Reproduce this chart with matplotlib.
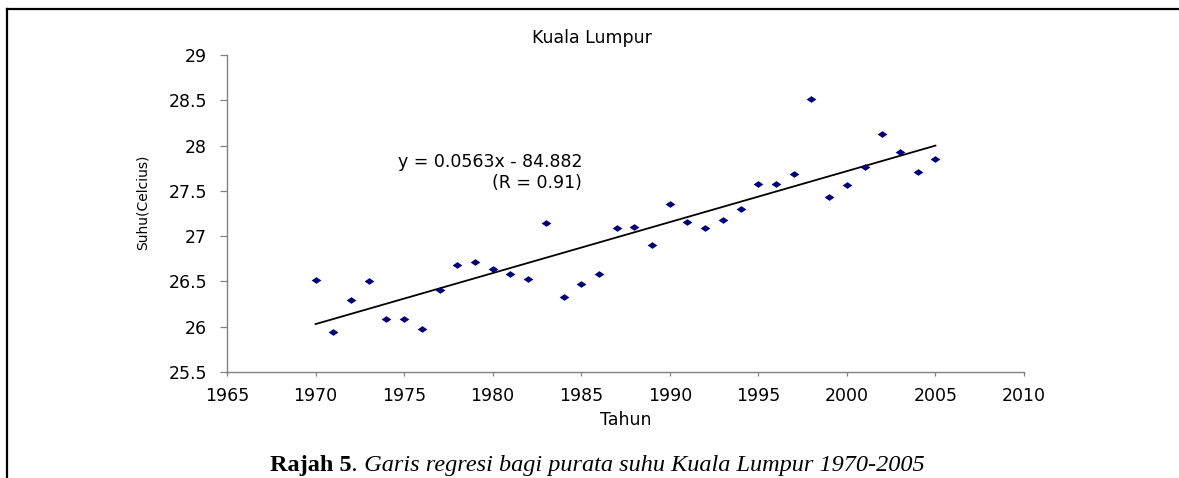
import matplotlib
matplotlib.use("Agg")
import matplotlib.pyplot as plt
from matplotlib.lines import Line2D
from matplotlib.path import Path
from matplotlib.ticker import FixedLocator, FormatStrFormatter

# ---------------- data ----------------
years = list(range(1970, 2006))
temps = [26.52, 25.94, 26.29, 26.51, 26.09, 26.09, 25.98, 26.40, 26.68, 26.71,
         26.64, 26.58, 26.53, 27.15, 26.33, 26.47, 26.58, 27.09, 27.10, 26.90,
         27.36, 27.16, 27.09, 27.18, 27.30, 27.58, 27.58, 27.69, 28.51, 27.43,
         27.57, 27.76, 28.13, 27.93, 27.71, 27.85]
slope = 0.0563
intercept = -84.882
r_value = 0.91
x_ticks = [1965, 1970, 1975, 1980, 1985, 1990, 1995, 2000, 2005, 2010]
y_ticks = [25.5, 26, 26.5, 27, 27.5, 28, 28.5, 29]
title = "Kuala Lumpur"
x_label = "Tahun"
y_label = "Suhu(Celcius)"
caption_bold = "Rajah 5"
caption_italic = ". Garis regresi bagi purata suhu Kuala Lumpur 1970-2005"

# ---------------- layout helpers ----------------
W, H = 1179, 478
def fx(px):
    return px / W
def fy(py):
    return 1 - py / H

fig = plt.figure(figsize=(W / 100, H / 100), dpi=100)
fig.patch.set_facecolor("white")

ax_l, ax_r, ax_t, ax_b = 227, 1024, 55, 372
ax = fig.add_axes([fx(ax_l), fy(ax_b), fx(ax_r) - fx(ax_l), fy(ax_t) - fy(ax_b)])

# scatter points (wide diamond marker)
diamond = Path([(0, 1), (1.45, 0), (0, -1), (-1.45, 0), (0, 1)],
               [Path.MOVETO, Path.LINETO, Path.LINETO, Path.LINETO, Path.CLOSEPOLY])
ax.plot(years, temps, linestyle="none", marker=diamond, markersize=7,
        color="#000080", markeredgewidth=0, zorder=3)

# regression line
fit_x = [years[0], years[-1]]
fit_y = [slope * v + intercept for v in fit_x]
ax.plot(fit_x, fit_y, color="black", linewidth=1.3, zorder=2)

ax.set_xlim(x_ticks[0], x_ticks[-1])
ax.set_ylim(y_ticks[0], y_ticks[-1])
ax.xaxis.set_major_locator(FixedLocator(x_ticks))
ax.yaxis.set_major_locator(FixedLocator(y_ticks))
ax.yaxis.set_major_formatter(FormatStrFormatter("%g"))

for s in ("top", "right"):
    ax.spines[s].set_visible(False)
for s in ("left", "bottom"):
    ax.spines[s].set_color("#808080")
    ax.spines[s].set_linewidth(1.0)

ax.tick_params(axis="y", direction="out", length=5.3, width=0.9, color="#808080",
               pad=9.1, labelsize=12.5, labelcolor="black")
ax.tick_params(axis="x", direction="out", length=3.2, width=0.9, color="#808080",
               pad=7.6, labelsize=12.5, labelcolor="black")

ax.set_xlabel(x_label, fontsize=12.5, va="center")
ax.xaxis.set_label_coords(0.5, (ax_b - 420) / (ax_b - ax_t))
ax.set_ylabel(y_label, fontsize=10, va="center")
ax.yaxis.set_label_coords((143 - ax_l) / (ax_r - ax_l), (ax_b - 202) / (ax_b - ax_t))

# title and equation
fig.text(fx(592), fy(38), title, ha="center", va="center", fontsize=12.5)
eq1 = f"y = {slope:.4f}x - {abs(intercept):.3f}"
eq2 = f"(R = {r_value:.2f})"
fig.text(fx(582), fy(162), eq1, ha="right", va="center", fontsize=12.5)
fig.text(fx(582), fy(183), eq2, ha="right", va="center", fontsize=12.5)

# frame lines (left and top)
fig.add_artist(Line2D([fx(7), fx(7)], [fy(9), 0], transform=fig.transFigure,
                      color="black", linewidth=1.6, solid_capstyle="projecting"))
fig.add_artist(Line2D([fx(7), 1], [fy(9), fy(9)], transform=fig.transFigure,
                      color="black", linewidth=1.6, solid_capstyle="projecting"))

# caption
cap1 = fig.text(0.2, fy(471), caption_bold, family="Liberation Serif",
                weight="bold", fontsize=17.5, ha="left", va="baseline")
cap2 = ax.annotate(caption_italic, xy=(1, 0), xycoords=cap1, ha="left", va="bottom",
                   family="Liberation Serif", style="italic", fontsize=17.5,
                   annotation_clip=False)

fig.canvas.draw()
r = fig.canvas.get_renderer()
b1 = cap1.get_window_extent(r)
b2 = cap2.get_window_extent(r)
total = b2.x1 - b1.x0
cap1.set_x((597 - total / 2) / W)

fig.savefig("out.png", dpi=100)
